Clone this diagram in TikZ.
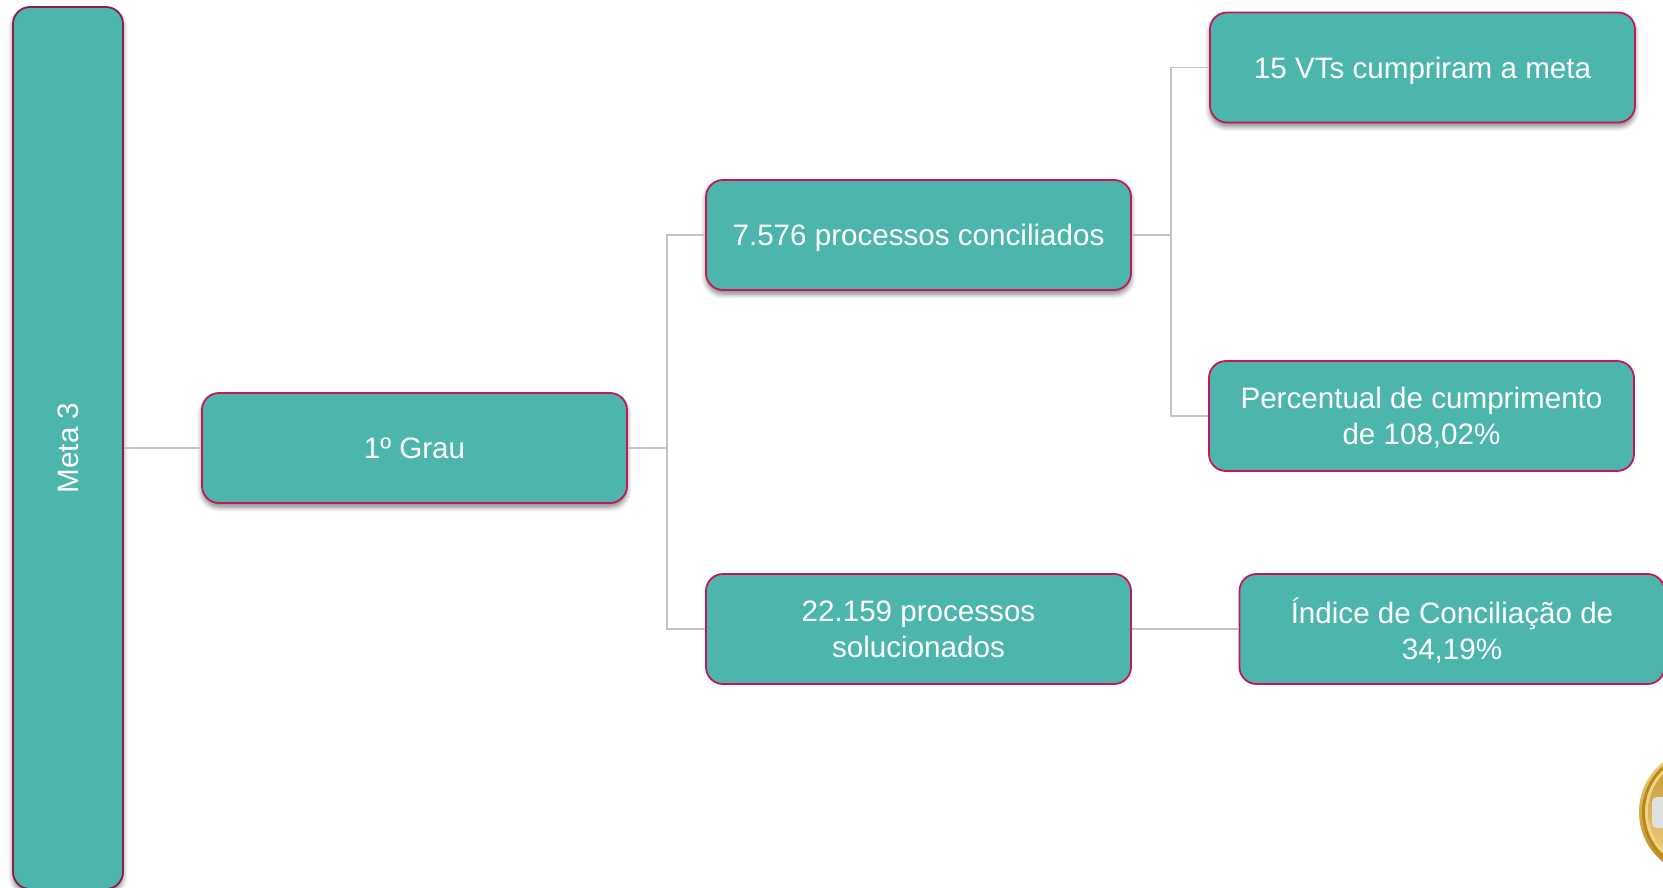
\documentclass[tikz,border=0pt]{standalone}
\usepackage{fontspec}
\setmainfont{Liberation Sans}
\usetikzlibrary{shadows.blur}
\definecolor{teal}{HTML}{4DB6AC}
\definecolor{crim}{HTML}{C2185B}
\definecolor{crimd}{HTML}{8F1A4B}
\definecolor{fio}{HTML}{C4C4C4}
\definecolor{gold}{HTML}{B9861B}
\definecolor{goldl}{HTML}{F0D486}
\tikzset{
caixa/.style={draw=crim,line width=1.8pt,fill=teal,rounded corners=17pt,text=white,align=center,minimum width=425pt,minimum height=110pt,inner sep=0pt,text depth=0pt,font=\fontsize{29.6}{36}\selectfont},
sombra/.style={blur shadow={shadow xshift=0pt,shadow yshift=-4pt,shadow blur steps=6,shadow blur radius=5pt,shadow opacity=50}},
fio/.style={draw=fio,line width=1.8pt}
}
\begin{document}
\begin{tikzpicture}[x=1pt,y=-1pt]
\useasboundingbox (0,0) rectangle (1663,888);
\node[caixa,sombra,draw=crimd,rotate=90,minimum width=882pt,minimum height=110pt] (meta) at (68,448) {Meta 3};
\node[caixa,sombra] (grau) at (414.5,448) {1º Grau};
\node[caixa,sombra] (conc) at (918.5,235) {7.576 processos conciliados};
\node[caixa] (solv) at (918.5,629) {22.159 processos\\solucionados};
\node[caixa,sombra] (vts) at (1422.5,67.5) {15 VTs cumpriram a meta};
\node[caixa] (perc) at (1421.5,416) {Percentual de cumprimento\\de 108,02\%};
\node[caixa] (ind) at (1452,629) {Índice de Conciliação de\\34,19\%};
\coordinate (bus1) at (667,448);
\coordinate (bus2) at (1171,235);
\draw[fio] (meta.south)--(grau.west);
\draw[fio] (grau.east)--(bus1);
\draw[fio] (conc.west)-|(bus1)|-(solv.west);
\draw[fio] (conc.east)--(bus2);
\draw[fio] (vts.west)-|(bus2)|-(perc.west);
\draw[fio] (solv.east)--(ind.west);
\shade[top color=goldl,bottom color=gold] (1703,812) circle (64);
\fill[gold] (1703,812) circle (61);
\fill[goldl] (1703,812) circle (58);
\shade[top color=gold!80!goldl,bottom color=goldl] (1703,812) circle (55);
\fill[black!12,rounded corners=5pt] (1652,797) rectangle (1680,828);
\end{tikzpicture}
\end{document}
